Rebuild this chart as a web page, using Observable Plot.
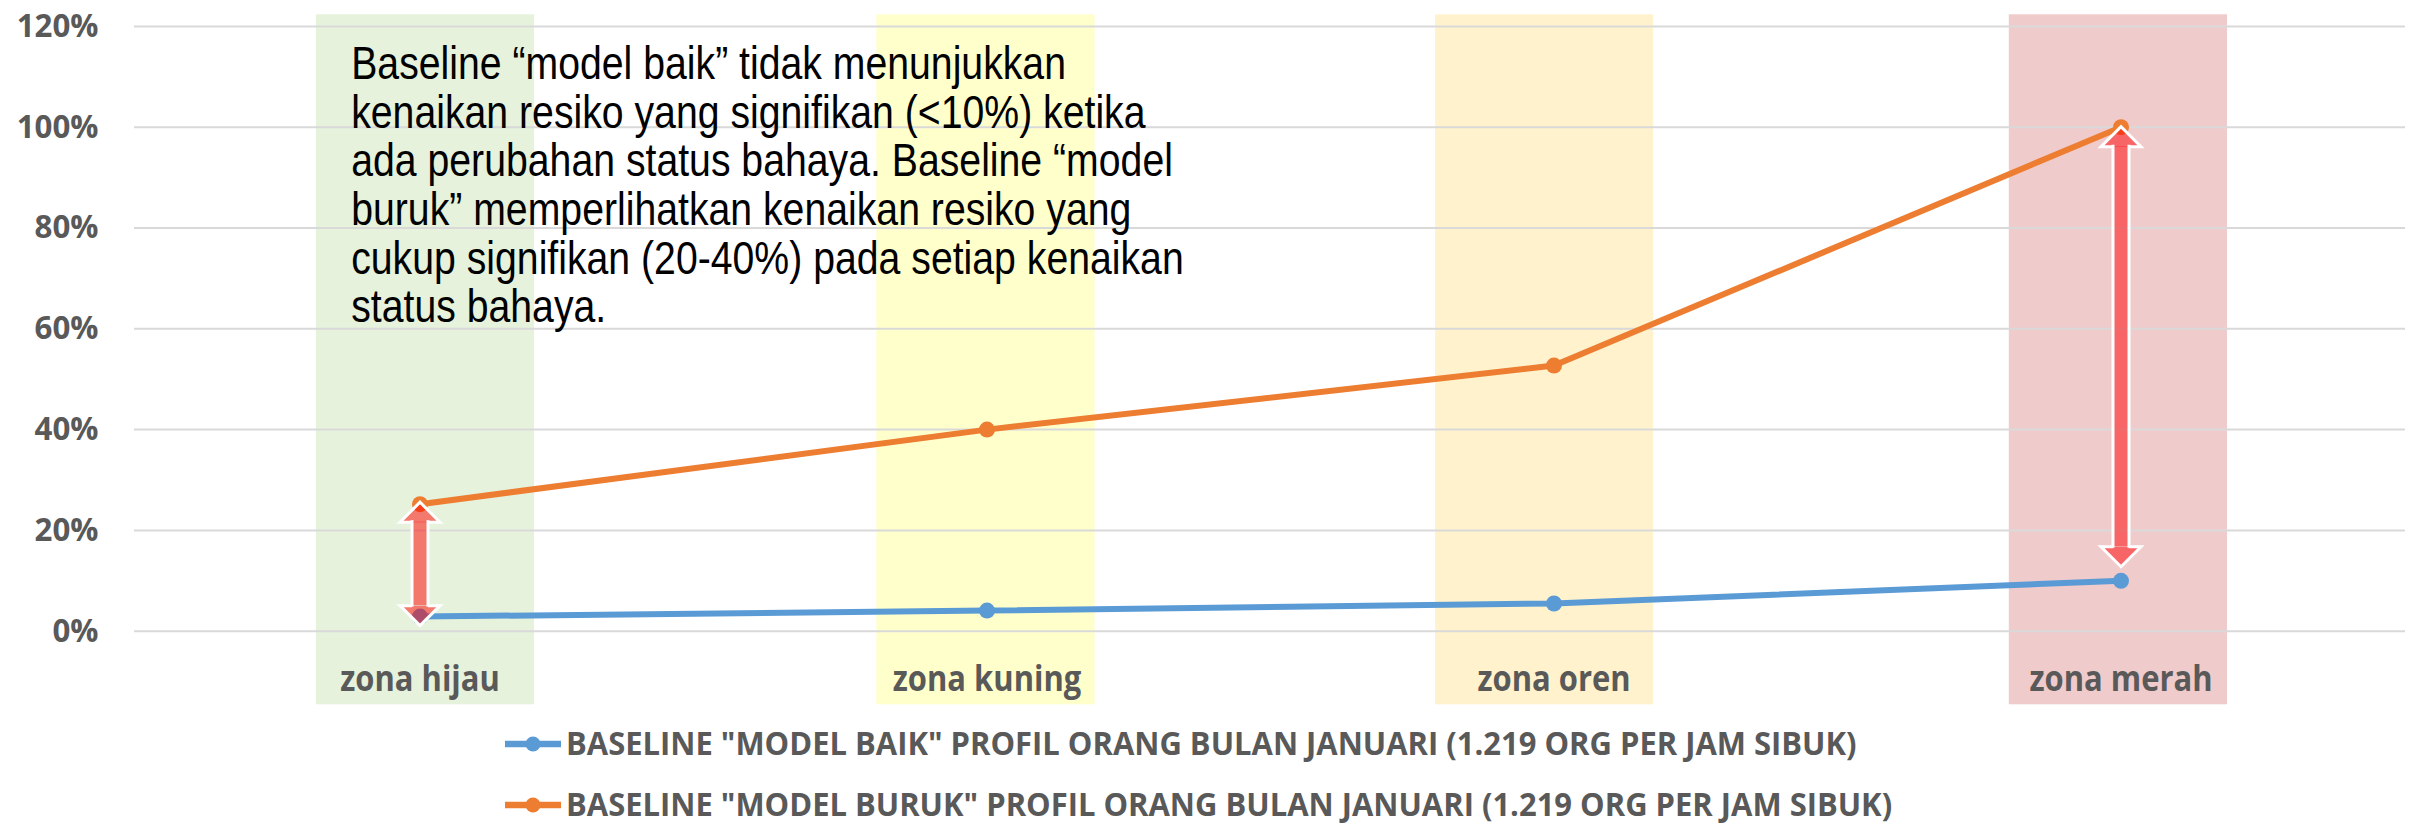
<!DOCTYPE html>
<html><head><meta charset="utf-8">
<script src="https://cdn.jsdelivr.net/npm/d3@7"></script>
<script src="https://cdn.jsdelivr.net/npm/@observablehq/plot@0.6"></script>
<style>
html,body{margin:0;padding:0;background:#fff;overflow:hidden;}
#chart{width:2410px;height:715px;}
#chart svg{display:block;}
.legend{font-family:"Open Sans",sans-serif;font-weight:700;font-size:32.6px;color:#595959;margin-top:-2px;}
.row{display:flex;align-items:center;height:61px;padding-left:505px;}
.row svg{flex:none;}
.row span{display:inline-block;white-space:nowrap;line-height:1;margin-left:5px;transform:scaleX(0.95);transform-origin:left center;}
</style></head><body>
<div id="chart"></div>
<div class="legend" id="legend"></div>
<script>
// ---- data ----
const zones = ["zona hijau", "zona kuning", "zona oren", "zona merah"];
const zoneColors = ["#E6F2DB", "#FFFFCC", "#FFF2CC", "#F0CBCC"];
const baikValues = [0.029, 0.041, 0.055, 0.100];
const burukValues = [0.252, 0.400, 0.527, 1.000];
const seriesNames = [
  'BASELINE "MODEL BAIK" PROFIL ORANG BULAN JANUARI (1.219 ORG PER JAM SIBUK)',
  'BASELINE "MODEL BURUK" PROFIL ORANG BULAN JANUARI (1.219 ORG PER JAM SIBUK)'
];
const seriesColors = ["#5B9BD5", "#ED7D31"];
const yTicks = [0, 0.2, 0.4, 0.6, 0.8, 1.0, 1.2];
const arrowZones = ["zona hijau", "zona merah"];
const arrowTop = [0.256, 1.001];
const arrowBottom = [0.011, 0.128];
const annotationLines = [
  "Baseline “model baik” tidak menunjukkan",
  "kenaikan resiko yang signifikan (<10%) ketika",
  "ada perubahan status bahaya. Baseline “model",
  "buruk” memperlihatkan kenaikan resiko yang",
  "cukup signifikan (20-40%) pada setiap kenaikan",
  "status bahaya."
];

// ---- tables ----
const points = zones.map((z, i) => ({zone: z, baik: baikValues[i], buruk: burukValues[i]}));
const arrows = arrowZones.map((z, i) => ({zone: z, top: arrowTop[i], bottom: arrowBottom[i]}));

// arrow head symbols (tip at origin)
const HW = 20, HL = 20, SW = 8;
const headUp = {draw(c) { c.moveTo(0, 0); c.lineTo(HW, HL); c.lineTo(-HW, HL); c.closePath(); }};
const headDown = {draw(c) { c.moveTo(0, 0); c.lineTo(HW, -HL); c.lineTo(-HW, -HL); c.closePath(); }};
const headUpOutline = {draw(c) { c.moveTo(SW, HL); c.lineTo(HW, HL); c.lineTo(0, 0); c.lineTo(-HW, HL); c.lineTo(-SW, HL); }};
const headDownOutline = {draw(c) { c.moveTo(SW, -HL); c.lineTo(HW, -HL); c.lineTo(0, 0); c.lineTo(-HW, -HL); c.lineTo(-SW, -HL); }};

const fmt = d3.format(".0%");
// hand-placed zone shading in the original is slightly off-centre
const bandShift = [5.5, -1, -9.4, -2.6];

const chart = Plot.plot({
  width: 2410,
  height: 715,
  marginLeft: 134,
  marginRight: 5,
  marginTop: 25.9,
  marginBottom: 84.3,
  style: {fontFamily: "Open Sans", background: "#fff", overflow: "visible"},
  x: {type: "band", domain: zones, padding: 0, axis: null},
  y: {domain: [0, 1.2], axis: null},
  color: {domain: zones, range: zoneColors},
  marks: [
    ...zones.map((z, i) => Plot.barY([z], {x: d => d, y1: -0.146, y2: 1.223, fill: d => d,
      insetLeft: 174.4, insetRight: 174.4, dx: bandShift[i]})),
    Plot.gridY(yTicks, {stroke: "#D9D9D9", strokeOpacity: 1, strokeWidth: 2}),
    Plot.text(yTicks, {y: d => d, text: d => fmt(d), frameAnchor: "left", textAnchor: "end", dx: -36,
      fontSize: 32.6, fontWeight: 700, fill: "#595959"}),
    Plot.text(zones, {x: d => d, text: d => d, frameAnchor: "bottom", lineAnchor: "bottom", dy: 59.3,
      fontSize: 36, fontWeight: 700, fill: "#595959"}),
    Plot.line(points, {x: "zone", y: "baik", stroke: seriesColors[0], strokeWidth: 6}),
    Plot.dot(points, {x: "zone", y: "baik", fill: seriesColors[0], r: 8}),
    Plot.line(points, {x: "zone", y: "buruk", stroke: seriesColors[1], strokeWidth: 6}),
    Plot.dot(points, {x: "zone", y: "buruk", fill: seriesColors[1], r: 8}),
    // arrows: fill
    Plot.ruleX(arrows, {x: "zone", y1: "top", y2: "bottom", stroke: "red", strokeOpacity: 0.5, strokeWidth: 2 * SW, insetTop: HL, insetBottom: HL}),
    Plot.dot(arrows, {x: "zone", y: "top", symbol: headUp, fill: "red", fillOpacity: 0.5, stroke: null}),
    Plot.dot(arrows, {x: "zone", y: "bottom", symbol: headDown, fill: "red", fillOpacity: 0.5, stroke: null}),
    // arrows: white outline
    Plot.ruleX(arrows, {x: "zone", y1: "top", y2: "bottom", dx: -SW, stroke: "white", strokeWidth: 3, insetTop: HL - 1.5, insetBottom: HL - 1.5}),
    Plot.ruleX(arrows, {x: "zone", y1: "top", y2: "bottom", dx: SW, stroke: "white", strokeWidth: 3, insetTop: HL - 1.5, insetBottom: HL - 1.5}),
    Plot.dot(arrows, {x: "zone", y: "top", symbol: headUpOutline, fill: "none", stroke: "white", strokeWidth: 3, strokeLinejoin: "miter"}),
    Plot.dot(arrows, {x: "zone", y: "bottom", symbol: headDownOutline, fill: "none", stroke: "white", strokeWidth: 3, strokeLinejoin: "miter"}),
    // annotation
    Plot.text([annotationLines.join("\n")], {text: d => d, frameAnchor: "top-left", textAnchor: "start", lineAnchor: "top",
      dx: 216.7, dy: 18, fontSize: 45.6, lineHeight: 1.068, fontFamily: "Liberation Sans", fill: "#000"})
  ]
});

document.getElementById("chart").append(chart);

// horizontal condensing of the text, as in the reference
function squish(size, s) {
  d3.select(chart).selectAll("g").filter(function() {
    return Math.abs(parseFloat(this.getAttribute("font-size")) - size) < 0.01;
  }).selectAll("text").each(function() {
    const t = this;
    const g = document.createElementNS("http://www.w3.org/2000/svg", "g");
    t.parentNode.insertBefore(g, t);
    g.appendChild(t);
    const b = g.getBBox();
    const anchor = getComputedStyle(t).textAnchor;
    const ax = anchor === "end" ? b.x + b.width : anchor === "middle" ? b.x + b.width / 2 : b.x;
    g.setAttribute("transform", `translate(${ax},0) scale(${s},1) translate(${-ax},0)`);
  });
}
squish(45.6, 0.86);
squish(36, 0.86);
squish(32.6, 0.96);

// legend
const legend = d3.select("#legend");
seriesNames.forEach((name, i) => {
  const row = legend.append("div").attr("class", "row");
  const sv = row.append("svg").attr("width", 56).attr("height", 16);
  sv.append("line").attr("x1", 0).attr("x2", 56).attr("y1", 8).attr("y2", 8)
    .attr("stroke", seriesColors[i]).attr("stroke-width", 6.5).attr("stroke-linecap", "round");
  sv.append("circle").attr("cx", 28).attr("cy", 8).attr("r", 7.5).attr("fill", seriesColors[i]);
  row.append("span").text(name);
});
</script>
</body></html>
